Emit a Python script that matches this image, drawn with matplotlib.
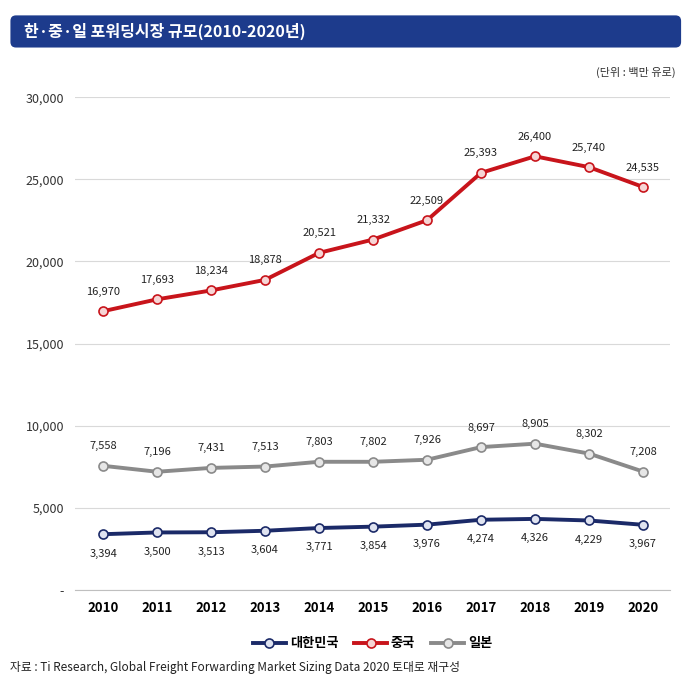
import matplotlib.pyplot as plt
from matplotlib.patches import FancyBboxPatch

plt.rcParams['font.family'] = ['Noto Sans CJK KR', 'DejaVu Sans']

years = [2010, 2011, 2012, 2013, 2014, 2015, 2016, 2017, 2018, 2019, 2020]
korea = [3394, 3500, 3513, 3604, 3771, 3854, 3976, 4274, 4326, 4229, 3967]
china = [16970, 17693, 18234, 18878, 20521, 21332, 22509, 25393, 26400, 25740, 24535]
japan = [7558, 7196, 7431, 7513, 7803, 7802, 7926, 8697, 8905, 8302, 7208]
series = [('대한민국', korea, '#1b2a68', '#dfe3f0', -1),
          ('중국', china, '#c8141b', '#f6d5d5', 1),
          ('일본', japan, '#8a8a8a', '#e6e6e6', 1)]

fig = plt.figure(figsize=(6.95, 6.99), dpi=100)
# title bar
fig.patches.append(FancyBboxPatch((0.015, 0.932), 0.965, 0.046, boxstyle='round,pad=0,rounding_size=0.008',
                                  transform=fig.transFigure, facecolor='#1d3b8c', edgecolor='none'))
fig.text(0.035, 0.955, '한·중·일 포워딩시장 규모(2010-2020년)', color='white', fontsize=11.5,
         fontweight='bold', va='center')
fig.text(0.972, 0.897, '(단위 : 백만 유로)', fontsize=8, ha='right', va='center', color='#333333')

ax = fig.add_axes([0.108, 0.156, 0.856, 0.705])
for name, vals, c, fc, side in series:
    ax.plot(years, vals, color=c, lw=2.8, marker='o', ms=6.5, mfc=fc, mec=c, mew=1.2,
             label=name, zorder=3)
    for x, v in zip(years, vals):
        ax.annotate(f'{v:,}', (x, v), xytext=(0, 14 * side), textcoords='offset points',
                    ha='center', va='center', fontsize=8, color='#222222')

ax.set_xlim(2009.48, 2020.5)
ax.set_ylim(0, 30000)
ax.set_yticks(range(0, 30001, 5000))
ax.set_yticklabels(['-'] + [f'{v:,}' for v in range(5000, 30001, 5000)], fontsize=9, color='#333333')
ax.set_xticks(years)
ax.set_xticklabels([str(y) for y in years], fontsize=9.5, fontweight='bold')
ax.grid(axis='y', color='#d9d9d9', lw=0.8)
ax.set_axisbelow(True)
for s in ['top', 'right', 'left']:
    ax.spines[s].set_visible(False)
ax.spines['bottom'].set_color('#bfbfbf')
ax.tick_params(length=0, pad=8)

ax.legend(loc='upper center', bbox_to_anchor=(0.5, -0.07), ncol=3, frameon=False,
          prop={'weight': 'bold', 'size': 9.5}, handlelength=2.5, columnspacing=1.2, handletextpad=0.3)
fig.text(0.015, 0.045, '자료 : Ti Research, Global Freight Forwarding Market Sizing Data 2020 토대로 재구성',
         fontsize=8.5, va='center', color='#222222')
fig.savefig('out.png')
